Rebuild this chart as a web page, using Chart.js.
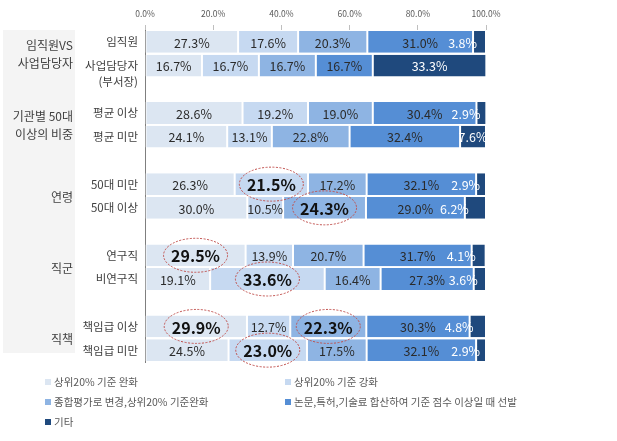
<!DOCTYPE html>
<html>
<head>
<meta charset="utf-8">
<script src="https://cdn.jsdelivr.net/npm/chart.js@4.4.1/dist/chart.umd.min.js"></script>
<style>
  html, body { margin: 0; padding: 0; background: #fff; }
  #wrap { width: 617px; height: 441px; position: relative; }
</style>
</head>
<body>
<div id="wrap"><canvas id="chart" width="617" height="441"></canvas></div>
<script>
// groups on the far left, each covers two rows
const groupLabels = [['임직원VS', '사업담당자'], ['기관별 50대', '이상의 비중'], ['연령'], ['직군'], ['직책']];
const rowLabels = ['임직원', ['사업담당자', '(부서장)'], '평균 이상', '평균 미만', '50대 미만', '50대 이상',
    '연구직', '비연구직', '책임급 이상', '책임급 미만'];
const seriesNames = ['상위20% 기준 완화', '상위20% 기준 강화', '종합평가로 변경,상위20% 기준완화',
    '논문,특허,기술료 합산하여 기준 점수 이상일 때 선발', '기타'];

const relaxTop20 = [27.3, 16.7, 28.6, 24.1, 26.3, 30.0, 29.5, 19.1, 29.9, 24.5];
const tightenTop20 = [17.6, 16.7, 19.2, 13.1, 21.5, 10.5, 13.9, 33.6, 12.7, 23.0];
const overallEval = [20.3, 16.7, 19.0, 22.8, 17.2, 24.3, 20.7, 16.4, 22.3, 17.5];
const scoreSum = [31.0, 16.7, 30.4, 32.4, 32.1, 29.0, 31.7, 27.3, 30.3, 32.1];
const others = [3.8, 33.3, 2.9, 7.6, 2.9, 6.2, 4.1, 3.6, 4.8, 2.9];

const xTicks = [0, 20, 40, 60, 80, 100];
// [row, series] of the values marked with a red dashed ellipse
const circled = [[4, 1], [5, 2], [6, 0], [7, 1], [8, 0], [8, 2], [9, 1]];

const colors = ['#dce6f2', '#c6d9f1', '#8eb4e3', '#558ed5', '#1f497d'];
const KR = "'Noto Sans CJK KR', 'Noto Sans', sans-serif";

// two rows per group, an empty slot between groups
const slotRow = [];
rowLabels.forEach((_, r) => {
    if (r > 0 && r % 2 === 0) slotRow.push(null);
    slotRow.push(r);
});
// two-line labels hang below the bar centre, like the original
const slotLabels = slotRow.map(r => {
    if (r === null) return '';
    const l = rowLabels[r];
    return Array.isArray(l) ? [''].concat(l) : l;
});
const toSlots = arr => slotRow.map(r => r === null ? null : arr[r]);

const allSeries = [relaxTop20, tightenTop20, overallEval, scoreSum, others];

const panelPlugin = {
    id: 'panel',
    beforeDraw(chart) {
        const ctx = chart.ctx;
        ctx.save();
        ctx.fillStyle = '#f4f4f4';
        ctx.fillRect(3, chart.chartArea.top, 72, chart.chartArea.bottom - chart.chartArea.top - 9);
        ctx.restore();
    }
};

const labelPlugin = {
    id: 'labels',
    afterDatasetsDraw(chart) {
        const ctx = chart.ctx;
        ctx.save();
        ctx.textBaseline = 'middle';
        const hot = [];
        chart.data.datasets.forEach((ds, i) => {
            const meta = chart.getDatasetMeta(i);
            meta.data.forEach((bar, j) => {
                const v = ds.data[j];
                if (v === null) return;
                const row = slotRow[j];
                const isHot = circled.some(c => c[0] === row && c[1] === i);
                const txt = v.toFixed(1) + '%';
                ctx.font = isHot ? 'bold 16px ' + KR : '12.5px ' + KR;
                const w = ctx.measureText(txt).width;
                const left = Math.min(bar.base, bar.x);
                const right = Math.max(bar.base, bar.x);
                let x = (left + right) / 2;
                ctx.textAlign = 'center';
                if (right - left < w * 0.85) {
                    ctx.textAlign = 'right';
                    x = left + 4;
                }
                ctx.fillStyle = i === 4 ? '#ffffff' : (isHot ? '#111111' : '#2b2b2b');
                ctx.fillText(txt, x, bar.y + 1);
                if (isHot) hot.push([(left + right) / 2, bar.y]);
            });
        });

        // red dashed ellipses
        ctx.strokeStyle = '#c0504d';
        ctx.lineWidth = 1;
        ctx.setLineDash([2, 1.5]);
        hot.forEach(([cx, cy]) => {
            ctx.beginPath();
            ctx.ellipse(cx, cy, 32, 17, 0, 0, Math.PI * 2);
            ctx.stroke();
        });
        ctx.setLineDash([]);

        // group labels
        const yScale = chart.scales.y;
        ctx.font = '12px ' + KR;
        ctx.fillStyle = '#404040';
        ctx.textAlign = 'right';
        groupLabels.forEach((lines, g) => {
            const a = yScale.getPixelForValue(slotRow.indexOf(g * 2));
            const b = yScale.getPixelForValue(slotRow.indexOf(g * 2 + 1));
            const mid = (a + b) / 2 + 1;
            const lh = 18;
            lines.forEach((t, k) => {
                ctx.fillText(t, 73, mid + (k - (lines.length - 1) / 2) * lh);
            });
        });

        // legend, two columns
        ctx.font = '10.5px ' + KR;
        ctx.textAlign = 'left';
        seriesNames.forEach((name, i) => {
            const x = i % 2 === 0 ? 45 : 285;
            const y = 382 + Math.floor(i / 2) * 20;
            ctx.fillStyle = colors[i];
            ctx.fillRect(x, y - 3, 6, 6);
            ctx.fillStyle = '#595959';
            ctx.fillText(name, x + 9, y);
        });
        ctx.restore();
    }
};

const datasets = allSeries.map((arr, i) => ({
    label: seriesNames[i],
    data: toSlots(arr),
    backgroundColor: colors[i],
    borderColor: '#ffffff',
    borderWidth: { left: 1, right: 1, top: 0, bottom: 0 },
    borderSkipped: false,
    barPercentage: 0.92,
    categoryPercentage: 1.0
}));

new Chart(document.getElementById('chart'), {
    type: 'bar',
    data: { labels: slotLabels, datasets: datasets },
    options: {
        indexAxis: 'y',
        responsive: false,
        animation: false,
        devicePixelRatio: 1,
        layout: { padding: { left: 0, right: 131, top: 0, bottom: 79 } },
        scales: {
            x: {
                position: 'top',
                stacked: true,
                min: 0,
                max: 100,
                afterFit: s => { s.height = 30; },
                afterBuildTicks: s => { s.ticks = xTicks.map(v => ({ value: v })); },
                grid: { drawOnChartArea: false, tickLength: 5, color: '#bfbfbf' },
                border: { display: false },
                ticks: {
                    padding: 6,
                    color: '#595959',
                    font: { size: 8.5, family: KR },
                    callback: v => v.toFixed(1) + '%'
                }
            },
            y: {
                stacked: true,
                afterFit: s => { s.width = 145; },
                grid: { drawOnChartArea: false, drawTicks: false },
                border: { display: true, color: '#7f7f7f', width: 1 },
                ticks: {
                    autoSkip: false,
                    padding: 7,
                    color: '#404040',
                    font: { size: 11.5, family: KR, lineHeight: 1.4 }
                }
            }
        },
        plugins: {
            legend: { display: false },
            tooltip: { enabled: false }
        }
    },
    plugins: [panelPlugin, labelPlugin]
});
</script>
</body>
</html>
